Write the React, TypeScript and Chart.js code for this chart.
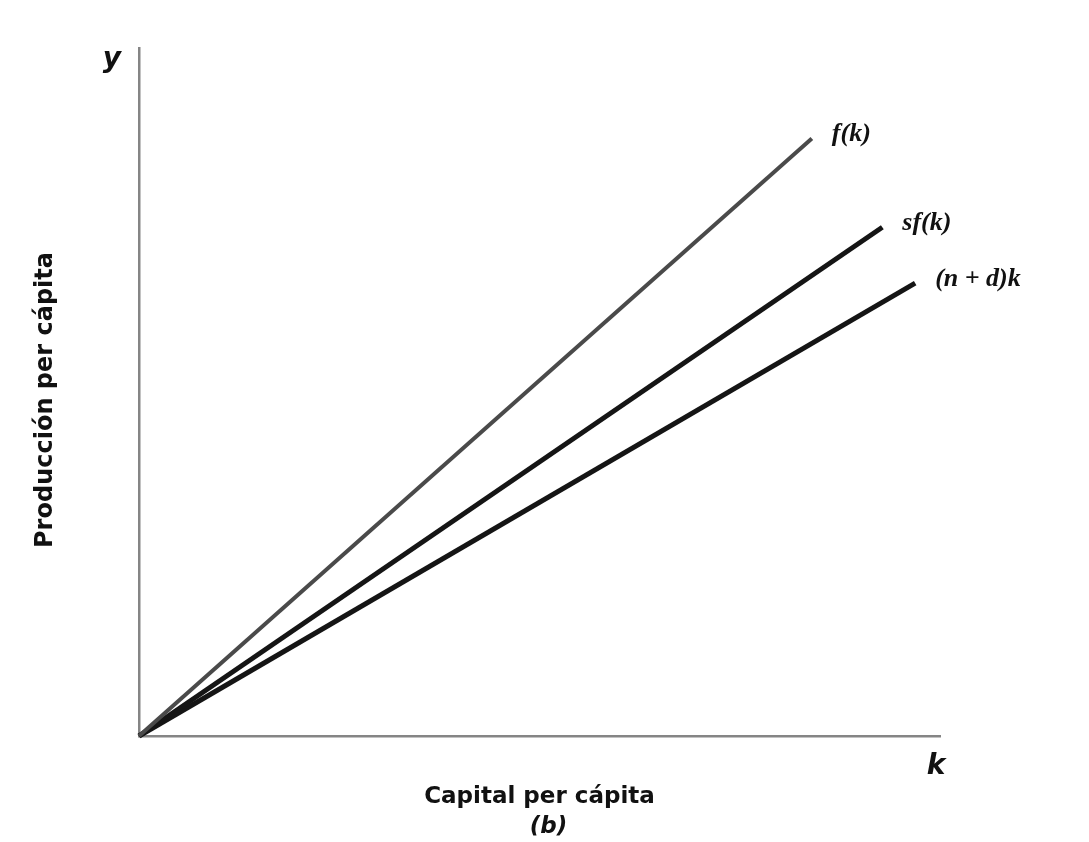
import React, { useEffect, useRef } from "react";
import { Chart, registerables } from "chart.js";

Chart.register(...registerables);

// Data (capital per capita k on x, output per capita y on y)
const seriesLabels = ["f(k)", "sf(k)", "(n + d)k"];
const capitalF = [0, 8.4];
const outputF = [0, 7.47];
const capitalS = [0, 9.28];
const savingS = [0, 6.36];
const capitalN = [0, 9.69];
const breakEvenN = [0, 5.66];
const xRange = [0, 10];
const yRange = [0, 8.6];
const xTitle = "Capital per cápita";
const yTitle = "Producción per cápita";
const panelLabel = "(b)";
const xAxisLetter = "k";
const yAxisLetter = "y";

const toPoints = (xs: number[], ys: number[]) => xs.map((x, i) => ({ x, y: ys[i] }));

const textPlugin = {
  id: "textPlugin",
  afterDraw(chart: any) {
    const { ctx, chartArea } = chart;
    const xs = chart.scales.x;
    const ys = chart.scales.y;
    ctx.save();
    // series labels at line ends
    ctx.fillStyle = "#111";
    ctx.textAlign = "left";
    ctx.textBaseline = "middle";
    ctx.font = "italic bold 26px 'Liberation Serif'";
    chart.data.datasets.forEach((ds: any) => {
      const last = ds.data[ds.data.length - 1];
      const px = xs.getPixelForValue(last.x);
      const py = ys.getPixelForValue(last.y);
      ctx.fillText(ds.label, px + 20, py - 4);
    });
    // axis letters
    ctx.font = "italic bold 28px 'DejaVu Sans'";
    ctx.textAlign = "center";
    ctx.fillText(yAxisLetter, chartArea.left - 27, chartArea.top + 12);
    ctx.fillText(xAxisLetter, chartArea.right - 4, chartArea.bottom + 31);
    // x title
    const cx = (chartArea.left + chartArea.right) / 2;
    ctx.font = "bold 23px 'DejaVu Sans'";
    ctx.fillText(xTitle, cx, chartArea.bottom + 61);
    ctx.font = "italic bold 23px 'DejaVu Sans'";
    ctx.fillText(panelLabel, cx + 9, chartArea.bottom + 91);
    // y title
    ctx.translate(chartArea.left - 93, (chartArea.top + chartArea.bottom) / 2 + 8);
    ctx.rotate(-Math.PI / 2);
    ctx.font = "bold 24px 'DejaVu Sans'";
    ctx.fillText(yTitle, 0, 0);
    ctx.restore();
  },
};

export default function App() {
  const canvasRef = useRef<HTMLCanvasElement | null>(null);

  useEffect(() => {
    if (!canvasRef.current) return;
    const chart = new Chart(canvasRef.current, {
      type: "line",
      data: {
        datasets: [
          {
            label: seriesLabels[0],
            data: toPoints(capitalF, outputF),
            borderColor: "#4a4a4a",
            borderWidth: 4,
            pointRadius: 0,
            clip: false as any,
          },
          {
            label: seriesLabels[1],
            data: toPoints(capitalS, savingS),
            borderColor: "#151515",
            borderWidth: 5,
            pointRadius: 0,
            clip: false as any,
          },
          {
            label: seriesLabels[2],
            data: toPoints(capitalN, breakEvenN),
            borderColor: "#151515",
            borderWidth: 5,
            pointRadius: 0,
            clip: false as any,
          },
        ],
      },
      options: {
        responsive: false,
        animation: false,
        layout: { padding: { left: 139, top: 48, right: 149, bottom: 106 } },
        plugins: { legend: { display: false }, tooltip: { enabled: false } },
        scales: {
          x: {
            type: "linear",
            min: xRange[0],
            max: xRange[1],
            ticks: { display: false },
            grid: { display: false, drawTicks: false },
            border: { display: true, color: "#858585", width: 2.5 },
          },
          y: {
            type: "linear",
            min: yRange[0],
            max: yRange[1],
            ticks: { display: false },
            grid: { display: false, drawTicks: false },
            border: { display: true, color: "#858585", width: 2.5 },
          },
        },
      },
      plugins: [textPlugin],
    });
    return () => chart.destroy();
  }, []);

  return (
    <div style={{ position: "absolute", left: 0, top: 0, width: 1089, height: 842, background: "#fff" }}>
      <canvas ref={canvasRef} width={1089} height={842} />
    </div>
  );
}
